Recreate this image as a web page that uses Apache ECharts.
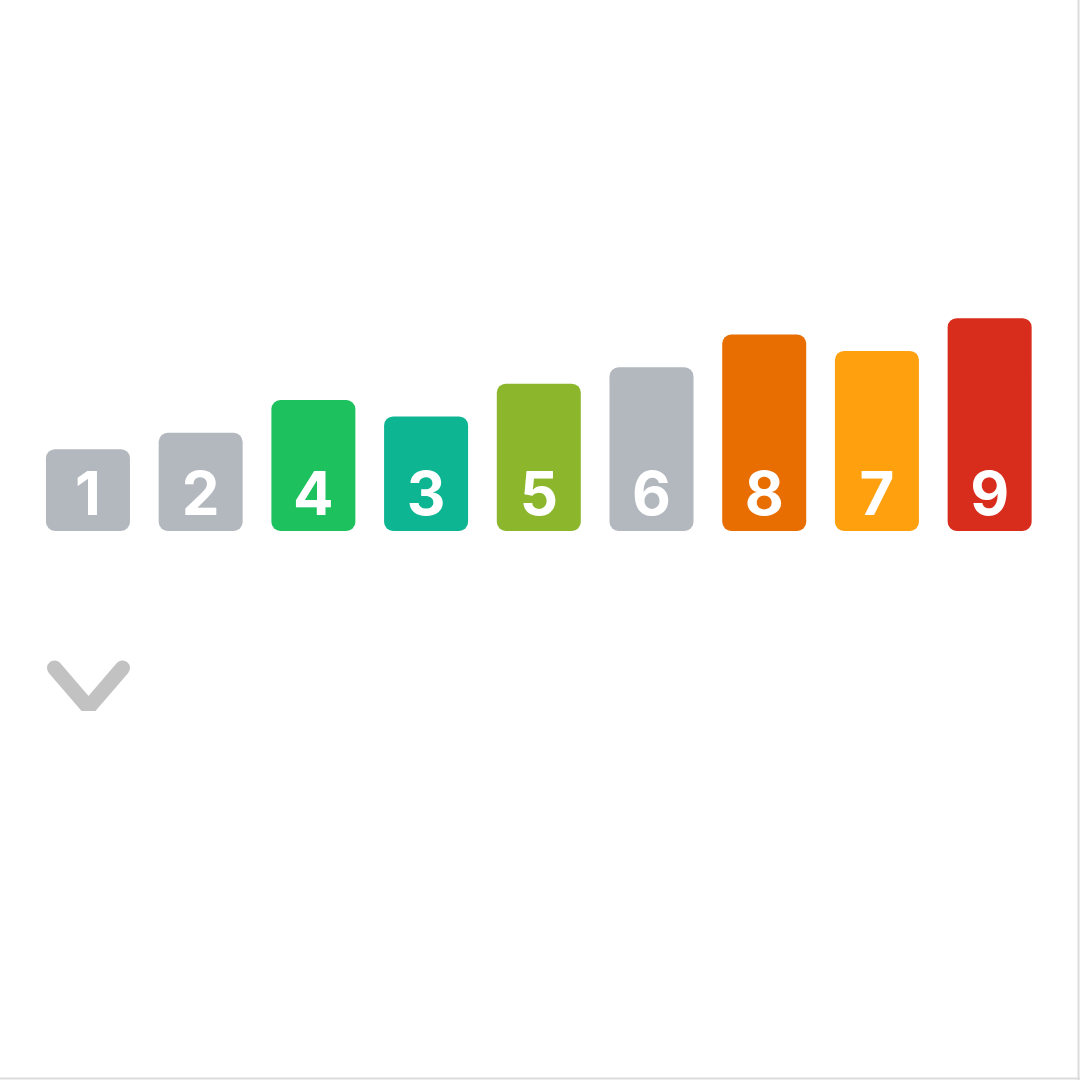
<!DOCTYPE html>
<html>
<head>
<meta charset="utf-8">
<script src="https://cdn.jsdelivr.net/npm/echarts@6/dist/echarts.min.js"></script>
<style>
html,body{margin:0;padding:0;background:#fff;}
#chart{width:1080px;height:1080px;}
</style>
</head>
<body>
<div id="chart"></div>
<script>
// Categories / labels shown on the bars (left to right)
var categories = ['1', '2', '4', '3', '5', '6', '8', '7', '9'];
// Bar heights (relative units)
var values = [5, 6, 8, 7, 9, 10, 12, 11, 13];
// Bar colours
var colors = ['#b2b8be', '#b2b8be', '#1dc25f', '#0db592', '#8cb62c', '#b2b8be', '#e86e02', '#ffa00e', '#d82c1c'];

var chart = echarts.init(document.getElementById('chart'), null, {renderer: 'canvas'});

var data = values.map(function (v, i) {
  return {value: v, itemStyle: {color: colors[i]}};
});

chart.setOption({
  animation: false,
  backgroundColor: '#ffffff',
  grid: {left: 31.6, right: 1080 - 1046, top: 203.5, bottom: 549, containLabel: false},
  xAxis: {
    type: 'category',
    data: categories,
    show: false
  },
  yAxis: {
    type: 'value',
    min: 0,
    max: 20,
    show: false
  },
  series: [{
    type: 'bar',
    data: data,
    barWidth: 84,
    itemStyle: {borderRadius: 9},
    label: {
      show: true,
      position: 'insideBottom',
      distance: 4,
      formatter: function (p) { return categories[p.dataIndex]; },
      color: '#ffffff',
      fontFamily: 'Inter',
      fontWeight: 700,
      fontSize: 60
    }
  }],
  graphic: [
    {
      type: 'polyline',
      shape: {points: [[54.5, 668], [85, 703.5], [92, 703.5], [122.5, 668]]},
      style: {stroke: '#c2c2c2', lineWidth: 15, lineCap: 'round', lineJoin: 'miter', fill: null}
    },
    {
      type: 'line',
      shape: {x1: 1078.5, y1: 0, x2: 1078.5, y2: 1080},
      style: {stroke: '#dcdcdc', lineWidth: 2}
    },
    {
      type: 'line',
      shape: {x1: 0, y1: 1078.5, x2: 1080, y2: 1078.5},
      style: {stroke: '#dcdcdc', lineWidth: 2}
    }
  ]
});
</script>
</body>
</html>
